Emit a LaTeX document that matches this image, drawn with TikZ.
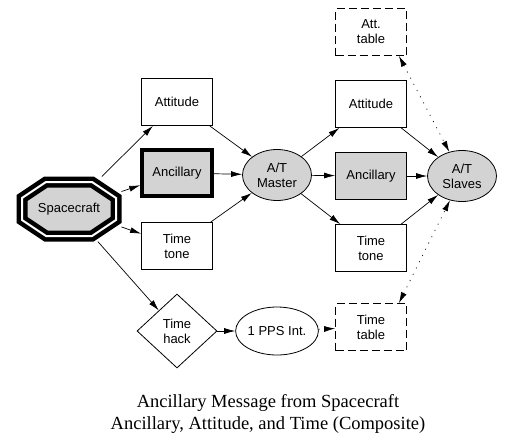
\documentclass[tikz,border=0pt]{standalone}
\usepackage{fontspec}
\setmainfont{Liberation Sans}
\newfontfamily\captionfont{Liberation Serif}
\usetikzlibrary{arrows.meta,shapes.geometric,backgrounds}
\definecolor{BoxGrey}{RGB}{211,211,211}

\begin{document}
\begin{tikzpicture}[x=1pt, y=-1pt,
    font=\fontsize{13}{15}\selectfont,
    box/.style={draw, line width=0.8pt, minimum width=71pt, minimum height=47pt, align=center, inner sep=0pt},
    tablebox/.style={box, dash pattern=on 8pt off 4pt},
    oval/.style={draw, ellipse, line width=0.8pt, minimum width=69pt, minimum height=51pt, align=center, inner sep=0pt},
    octa/.style={draw, fill=BoxGrey, line width=4.5pt, double=white, double distance=2pt},
    link/.style={-{Latex[length=11pt,width=6pt]}, line width=0.7pt},
    dotlink/.style={link, dash pattern=on 1pt off 6pt},
    dotboth/.style={dotlink, {Latex[length=11pt,width=6pt]}-{Latex[length=11pt,width=6pt]}},
  ]
  \useasboundingbox (0,0) rectangle (516,447);

  % Source (octagon drawn behind its text)
  \node[minimum width=94pt, minimum height=54pt, outer sep=5.5pt, inner sep=0pt] (craft) at (69,209) {Spacecraft};
  \begin{scope}[on background layer, shift={(craft.center)}]
    \draw[octa] (-23,-27) -- (23,-27) -- (47,-11) -- (47,11) -- (23,27) -- (-23,27) -- (-47,11) -- (-47,-11) -- cycle;
  \end{scope}

  % First column of messages
  \node[box] (att1) at (177,102) {Attitude};
  \node[box, fill=BoxGrey, line width=3.5pt, minimum width=70pt, minimum height=46pt] (anc1) at (177,173) {Ancillary};
  \node[box] (tone1) at (177,246) {Time\\tone};
  \node[draw, diamond, line width=0.8pt, minimum width=80pt, minimum height=74pt, inner sep=0pt, align=center] (hack) at (177,331) {Time\\hack};

  % Master and second column
  \node[oval, fill=BoxGrey] (master) at (277,175) {A/T\\Master};
  \node[oval, minimum width=78pt, minimum height=48pt] (pps) at (277,331) {1 PPS Int.};
  \node[tablebox] (atttab) at (371,32) {Att.\\table};
  \node[box] (att2) at (371,104) {Attitude};
  \node[box, fill=BoxGrey] (anc2) at (371,176) {Ancillary};
  \node[box] (tone2) at (371,248) {Time\\tone};
  \node[tablebox] (timetab) at (371,327) {Time\\table};

  % Slaves
  \node[oval, fill=BoxGrey] (slaves) at (462,176) {A/T\\Slaves};

  % Arrows from spacecraft
  \draw[link] (craft) -- (att1);
  \draw[link] (craft) -- (anc1);
  \draw[link] (craft) -- (tone1);
  \draw[link] (craft) -- (hack);

  % Arrows into and out of the master
  \draw[link] (att1) -- (master);
  \draw[link] (anc1) -- (master);
  \draw[link] (tone1) -- (master);
  \draw[link] (master) -- (att2);
  \draw[link] (master) -- (anc2);
  \draw[link] (master) -- (tone2);

  % Arrows into the slaves
  \draw[link] (att2) -- (slaves);
  \draw[link] (anc2) -- (slaves);
  \draw[link] (tone2) -- (slaves);
  \draw[dotboth] ([xshift=-8pt]atttab.south east) -- (slaves);
  \draw[dotboth] ([xshift=-8pt]timetab.north east) -- (slaves);

  % Time hack chain
  \draw[link] (hack) -- (pps);
  \draw[dotlink] (pps) -- (timetab);

  % Caption
  \node[font=\captionfont\fontsize{18.5}{22}\selectfont, align=center] (caption) at (268,414) {Ancillary Message from Spacecraft\\Ancillary, Attitude, and Time (Composite)};
\end{tikzpicture}
\end{document}
